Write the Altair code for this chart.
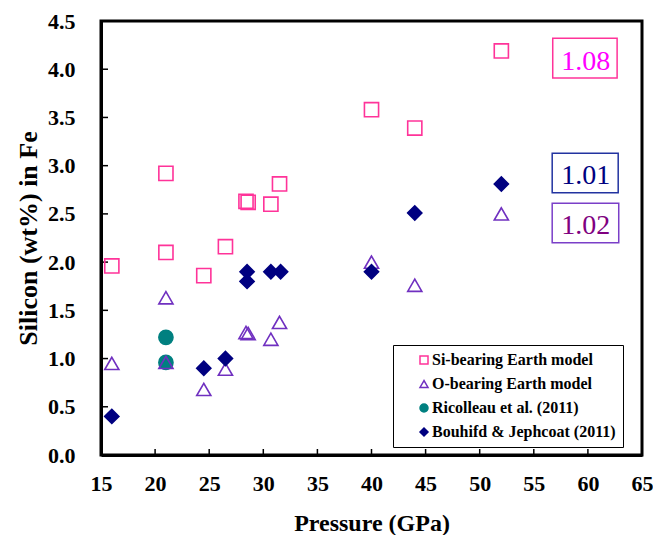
import altair as alt
import pandas as pd

# ---- data ----
series_names = [
    "Si-bearing Earth model",
    "O-bearing Earth model",
    "Ricolleau et al. (2011)",
    "Bouhifd & Jephcoat (2011)",
]

si_p = [16, 21, 21, 24.5, 26.5, 28.4, 28.6, 30.7, 31.5, 40, 44, 52]
si_v = [1.96, 2.92, 2.10, 1.86, 2.16, 2.63, 2.62, 2.60, 2.81, 3.58, 3.39, 4.19]

o_p = [16, 21, 21, 24.5, 26.5, 28.4, 28.6, 30.7, 31.5, 40, 44, 52]
o_v = [0.95, 1.63, 0.96, 0.68, 0.89, 1.27, 1.26, 1.20, 1.375, 2.00, 1.76, 2.50]

ric_p = [21, 21]
ric_v = [1.22, 0.96]

bj_p = [16, 24.5, 26.5, 28.5, 28.5, 30.7, 31.6, 40, 44, 52]
bj_v = [0.40, 0.90, 1.00, 1.90, 1.80, 1.90, 1.90, 1.90, 2.51, 2.81]

x_ticks = [15, 20, 25, 30, 35, 40, 45, 50, 55, 60, 65]
y_ticks = [0.0, 0.5, 1.0, 1.5, 2.0, 2.5, 3.0, 3.5, 4.0, 4.5]

ann_labels = ["1.08", "1.01", "1.02"]
ann_x = [59.8, 59.8, 59.8]
ann_y = [4.08, 2.89, 2.37]
ann_x0 = [56.75, 56.7, 56.7]
ann_x1 = [62.7, 62.8, 62.85]
ann_y0 = [3.91, 2.72, 2.20]
ann_y1 = [4.32, 3.13, 2.61]

# ---- styles ----
shapes = ["square", "triangle-up", "circle", "diamond"]
strokes = ["#FF3399", "#7030C0", "#008080", "#000080"]
fills = ["transparent", "transparent", "#008080", "#000080"]
ann_text_colors = ["#FF00FF", "#000080", "#800080"]
ann_box_colors = ["#FF3399", "#2233A0", "#7A3FC8"]

rows = []
for name, ps, vs in [
    (series_names[2], ric_p, ric_v),
    (series_names[0], si_p, si_v),
    (series_names[1], o_p, o_v),
    (series_names[3], bj_p, bj_v),
]:
    for p, v in zip(ps, vs):
        rows.append({"P": p, "v": v, "series": name})
df = pd.DataFrame(rows)

ann = pd.DataFrame({
    "label": ann_labels, "x": ann_x, "y": ann_y,
    "x0": ann_x0, "x1": ann_x1, "y0": ann_y0, "y1": ann_y1,
    "tc": ann_text_colors, "bc": ann_box_colors,
})

xscale = alt.Scale(domain=[15, 65], nice=False, zero=False)
yscale = alt.Scale(domain=[0, 4.5], nice=False)

FONT = "Liberation Serif"
W, H = 541, 434

xaxis = alt.Axis(values=x_ticks, title="Pressure (GPa)", labelPadding=18,
                 titlePadding=17, titleFontSize=24, labelFlush=False)
yaxis = alt.Axis(values=y_ticks, format=".1f", title="Silicon (wt%) in Fe",
                 labelPadding=26, titlePadding=6, titleFontSize=26)

legend = alt.Legend(
    title=None, orient="none", legendX=292, legendY=324,
    fillColor="white", strokeColor="black", padding=7,
    rowPadding=8.0, symbolSize=64, symbolStrokeWidth=1.5,
    symbolOffset=16, labelOffset=0,
    labelFont=FONT, labelFontWeight="bold", labelFontSize=16,
    labelColor="black", labelLimit=400,
)

points = alt.Chart(df).mark_point(filled=True, size=200, strokeWidth=1.6, opacity=1).encode(
    x=alt.X("P:Q", scale=xscale, axis=xaxis),
    y=alt.Y("v:Q", scale=yscale, axis=yaxis),
    shape=alt.Shape("series:N", scale=alt.Scale(domain=series_names, range=shapes), legend=legend),
    fill=alt.Fill("series:N", scale=alt.Scale(domain=series_names, range=fills), legend=legend),
    stroke=alt.Stroke("series:N", scale=alt.Scale(domain=series_names, range=strokes), legend=legend),
)

xt = pd.DataFrame({"t": x_ticks[1:-1]})
yt = pd.DataFrame({"t": y_ticks[1:-1]})

xtick_rules = alt.Chart(xt).mark_rule(color="black", strokeWidth=1.5).encode(
    x=alt.X("t:Q", scale=xscale, axis=xaxis),
    y=alt.value(H), y2=alt.value(H - 6),
)
ytick_rules = alt.Chart(yt).mark_rule(color="black", strokeWidth=1.5).encode(
    y=alt.Y("t:Q", scale=yscale, axis=yaxis),
    x=alt.value(0), x2=alt.value(7),
)

boxes = alt.Chart(ann).mark_rect(fill="white", strokeWidth=1.5).encode(
    x=alt.X("x0:Q", scale=xscale, axis=xaxis), x2="x1:Q",
    y=alt.Y("y0:Q", scale=yscale, axis=yaxis), y2="y1:Q",
    stroke=alt.Stroke("bc:N", scale=None),
)
texts = alt.Chart(ann).mark_text(font=FONT, fontSize=28, baseline="middle", align="center").encode(
    x=alt.X("x:Q", scale=xscale, axis=xaxis),
    y=alt.Y("y:Q", scale=yscale, axis=yaxis),
    text="label:N",
    color=alt.Color("tc:N", scale=None),
)

chart = alt.layer(xtick_rules, ytick_rules, boxes, texts, points).properties(
    width=W, height=H,
    padding={"left": 93, "top": 13, "right": 11, "bottom": 80},
    autosize=alt.AutoSizeParams(type="none"),
).configure_view(
    stroke="black", strokeWidth=3,
).configure_axis(
    labelFont=FONT, labelFontWeight="bold", labelFontSize=22, labelColor="black",
    titleFont=FONT, titleFontWeight="bold", titleColor="black",
    domainColor="black", domainWidth=3, ticks=False, grid=False,
)

chart.save("out.html", embed_options={"renderer": "svg", "actions": False})
